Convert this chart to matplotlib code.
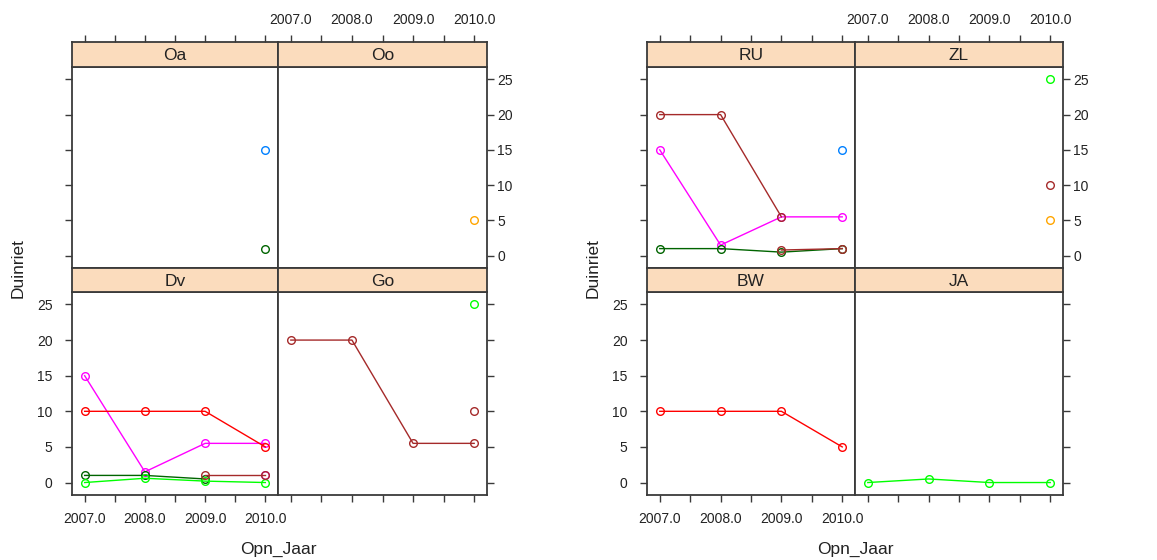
import matplotlib
matplotlib.use("Agg")
import matplotlib.pyplot as plt
import numpy as np

plt.rcParams["font.family"] = ["Liberation Sans", "DejaVu Sans"]

W, H = 1157, 560
fig = plt.figure(figsize=(W / 100, H / 100), dpi=100)

# --- data -------------------------------------------------------------
years = [2007, 2008, 2009, 2010]
year_ticks = [2007.0, 2007.5, 2008.0, 2008.5, 2009.0, 2009.5, 2010.0]
year_labels = ["2007.0", "", "2008.0", "", "2009.0", "", "2010.0"]
y_ticks = [0, 5, 10, 15, 20, 25]
nan = np.nan

# lattice default superpose colours
BLUE, MAGENTA, DKGREEN, RED = "#0080ff", "#ff00ff", "#006400", "#ff0000"
ORANGE, GREEN, BROWN = "#ffa500", "#00ff00", "#a52a2a"

oa_blue = [nan, nan, nan, 15]
oa_dkgreen = [nan, nan, nan, 1]

oo_orange = [nan, nan, nan, 5]

dv_magenta = [15, 1.5, 5.5, 5.5]
dv_magenta_b = [nan, nan, nan, 1]
dv_dkgreen = [1, 1, 0.5, nan]
dv_red = [10, 10, 10, 5]
dv_green = [0, 0.6, 0.2, 0]
dv_brown = [nan, nan, 1, 1]

go_green = [nan, nan, nan, 25]
go_brown = [20, 20, 5.5, 5.5]
go_brown_b = [nan, nan, nan, 10]

ru_blue = [nan, nan, nan, 15]
ru_magenta = [15, 1.5, 5.5, 5.5]
ru_dkgreen = [1, 1, 0.5, 1]
ru_brown = [20, 20, 5.5, nan]
ru_brown_b = [nan, nan, 0.8, 1]

zl_orange = [nan, nan, nan, 5]
zl_green = [nan, nan, nan, 25]
zl_brown = [nan, nan, nan, 10]

bw_red = [10, 10, 10, 5]

ja_green = [0, 0.5, 0, 0]

left_panels = {
    "Oa": [(oa_blue, BLUE), (oa_dkgreen, DKGREEN)],
    "Oo": [(oo_orange, ORANGE)],
    "Dv": [(dv_magenta, MAGENTA), (dv_magenta_b, MAGENTA), (dv_dkgreen, DKGREEN),
           (dv_red, RED), (dv_green, GREEN), (dv_brown, BROWN)],
    "Go": [(go_green, GREEN), (go_brown, BROWN), (go_brown_b, BROWN)],
}
right_panels = {
    "RU": [(ru_blue, BLUE), (ru_magenta, MAGENTA), (ru_dkgreen, DKGREEN),
           (ru_brown, BROWN), (ru_brown_b, BROWN)],
    "ZL": [(zl_orange, ORANGE), (zl_green, GREEN), (zl_brown, BROWN)],
    "BW": [(bw_red, RED)],
    "JA": [(ja_green, GREEN)],
}

# --- drawing ----------------------------------------------------------
FRAME = "#3a3a3a"
STRIP = "#fbdcbd"
XLIM = (2006.79, 2010.21)
YLIM = (-1.75, 26.75)


def px_axes(x0, y0, x1, y1):
    return fig.add_axes([x0 / W, 1 - y1 / H, (x1 - x0) / W, (y1 - y0) / H])


def style_frame(ax):
    for s in ax.spines.values():
        s.set_color(FRAME)
        s.set_linewidth(1.3)
    ax.tick_params(direction="out", length=5, width=1, color=FRAME,
                   labelsize=10, labelcolor="#222222")


def trellis(x_left, x_mid, x_right, panels, ylab_x, title_x):
    names = list(panels.keys())
    rows = [(42, 67, 268), (268, 292, 495)]
    cols = [(x_left, x_mid), (x_mid, x_right)]
    for idx, name in enumerate(names):
        r, c = divmod(idx, 2)
        s_top, p_top, p_bot = rows[r]
        cx0, cx1 = cols[c]

        ax = px_axes(cx0, p_top, cx1, p_bot)
        ax.set_xlim(*XLIM)
        ax.set_ylim(*YLIM)
        style_frame(ax)
        for vals, col in panels[name]:
            ax.plot(years, np.array(vals, dtype=float), "-o", color=col, lw=1,
                    ms=5.5, mfc="none", mew=1, clip_on=False)

        ax.set_yticks(y_ticks)
        ax.set_yticklabels([str(v) for v in y_ticks])
        ax.set_xticks(year_ticks)
        ax.set_xticklabels(year_labels)
        # y axis: labels alternate left (bottom row) / right (top row)
        if c == 0:
            ax.tick_params(axis="y", left=True, right=False,
                           labelleft=(r == 1), labelright=False, pad=9)
        else:
            ax.tick_params(axis="y", left=False, right=True,
                           labelleft=False, labelright=(r == 0), pad=2.5)
        # x axis: only bottom row carries ticks below the panel
        ax.tick_params(axis="x", top=False, labeltop=False,
                       bottom=(r == 1), labelbottom=(r == 1 and c == 0),
                       pad=7.5)

        sx = px_axes(cx0, s_top, cx1, p_top)
        sx.set_facecolor(STRIP)
        sx.set_xlim(*XLIM)
        sx.set_yticks([])
        style_frame(sx)
        sx.set_xticks(year_ticks)
        sx.set_xticklabels(year_labels)
        sx.tick_params(axis="x", bottom=False, labelbottom=False,
                       top=(r == 0), labeltop=(r == 0 and c == 1), pad=5.5)
        sx.text(0.5, 0.45, name, transform=sx.transAxes, ha="center",
                va="center", fontsize=12.5, color="#222222")

    fig.text(ylab_x / W, 1 - 268 / H, "Duinriet", rotation=90, ha="center",
             va="center", fontsize=12.5, color="#222222")
    fig.text(title_x / W, 1 - 549 / H, "Opn_Jaar", ha="center", va="center",
             fontsize=12.5, color="#222222")


trellis(72, 278, 487, left_panels, 18, 278)
trellis(647, 855, 1063, right_panels, 593, 855)

fig.savefig("out.png", dpi=100)
